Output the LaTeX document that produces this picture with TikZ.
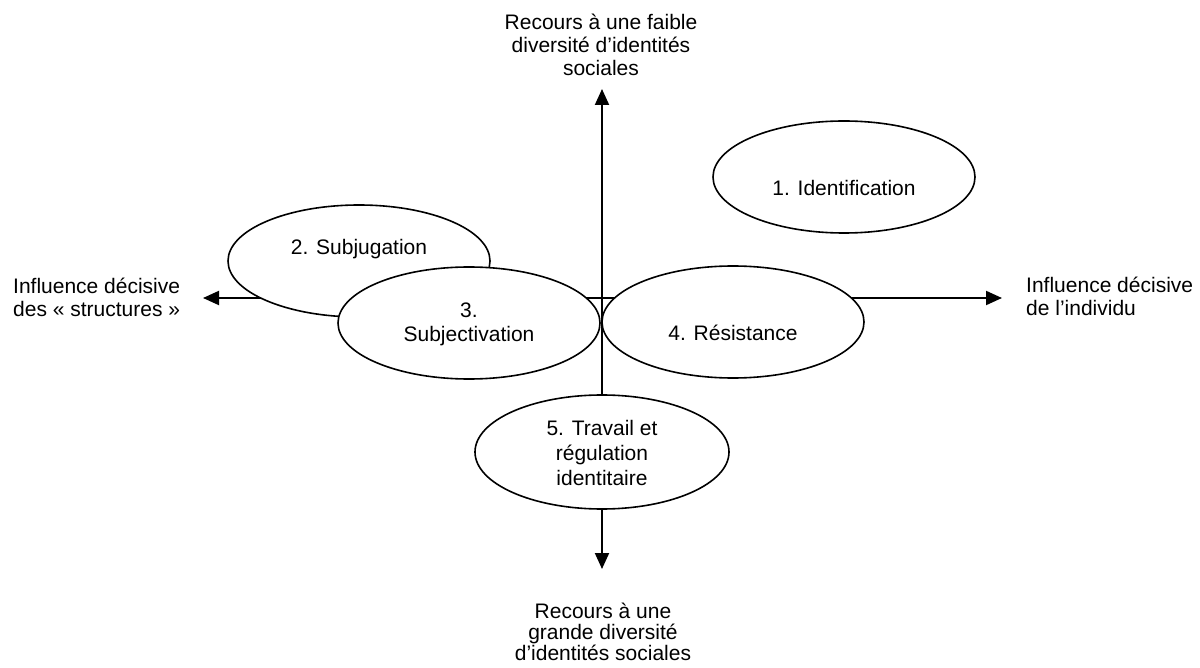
\documentclass[tikz,border=0pt]{standalone}
\usepackage{fontspec}
\setmainfont{Liberation Sans}
\usetikzlibrary{arrows.meta,shapes.geometric}
\tikzset{
  axisline/.style={line width=2pt,-{Triangle[length=16pt,width=14pt]}},
  oval/.style={ellipse,draw,line width=1.6pt,fill=white,minimum width=262pt,minimum height=112pt,inner sep=0pt},
  txt/.style={align=center,inner sep=0pt,font=\fontsize{21}{24}\selectfont},
  sidetxt/.style={align=left,inner sep=0pt,anchor=west,font=\fontsize{21}{23}\selectfont}
}
\begin{document}
\begin{tikzpicture}[x=1pt,y=-1pt]
\useasboundingbox (0,0) rectangle (1200,668);
% axes
\coordinate (O) at (602,298);
\coordinate (T) at (602,89);
\coordinate (B) at (602,569);
\coordinate (L) at (203,298);
\coordinate (R) at (1002,298);
\draw[axisline] (O) -- (T);
\draw[axisline] (O) -- (B);
\draw[axisline] (O) -- (L);
\draw[axisline] (O) -- (R);
% ellipses
\node[oval] (e2) at (359,261) {};
\node[txt] (t2) at (359,249) {2. Subjugation};
\node[oval] (e3) at (469,323) {};
\node[txt] (t3) at (469,324) {3.\\Subjectivation};
\node[oval] (e4) at (733,322) {};
\node[txt] (t4) at (733,333) {4. Résistance};
\node[oval] (e1) at (844,177) {};
\node[txt] (t1) at (844,188) {1. Identification};
\node[oval,minimum width=254pt,minimum height=114pt] (e5) at (602,452) {};
\node[txt,font=\fontsize{21}{25}\selectfont] (t5) at (602,453) {5. Travail et\\régulation\\identitaire};
% labels
\node[txt,font=\fontsize{21}{23}\selectfont] (top) at (601,45) {Recours à une faible\\diversité d’identités\\sociales};
\node[txt,font=\fontsize{21}{21}\selectfont] (bot) at (603,632) {Recours à une\\grande diversité\\d’identités sociales};
\node[sidetxt] (left) at (13,297) {Influence décisive\\des « structures »};
\node[sidetxt] (right) at (1026,296) {Influence décisive\\de l’individu};
\end{tikzpicture}
\end{document}
